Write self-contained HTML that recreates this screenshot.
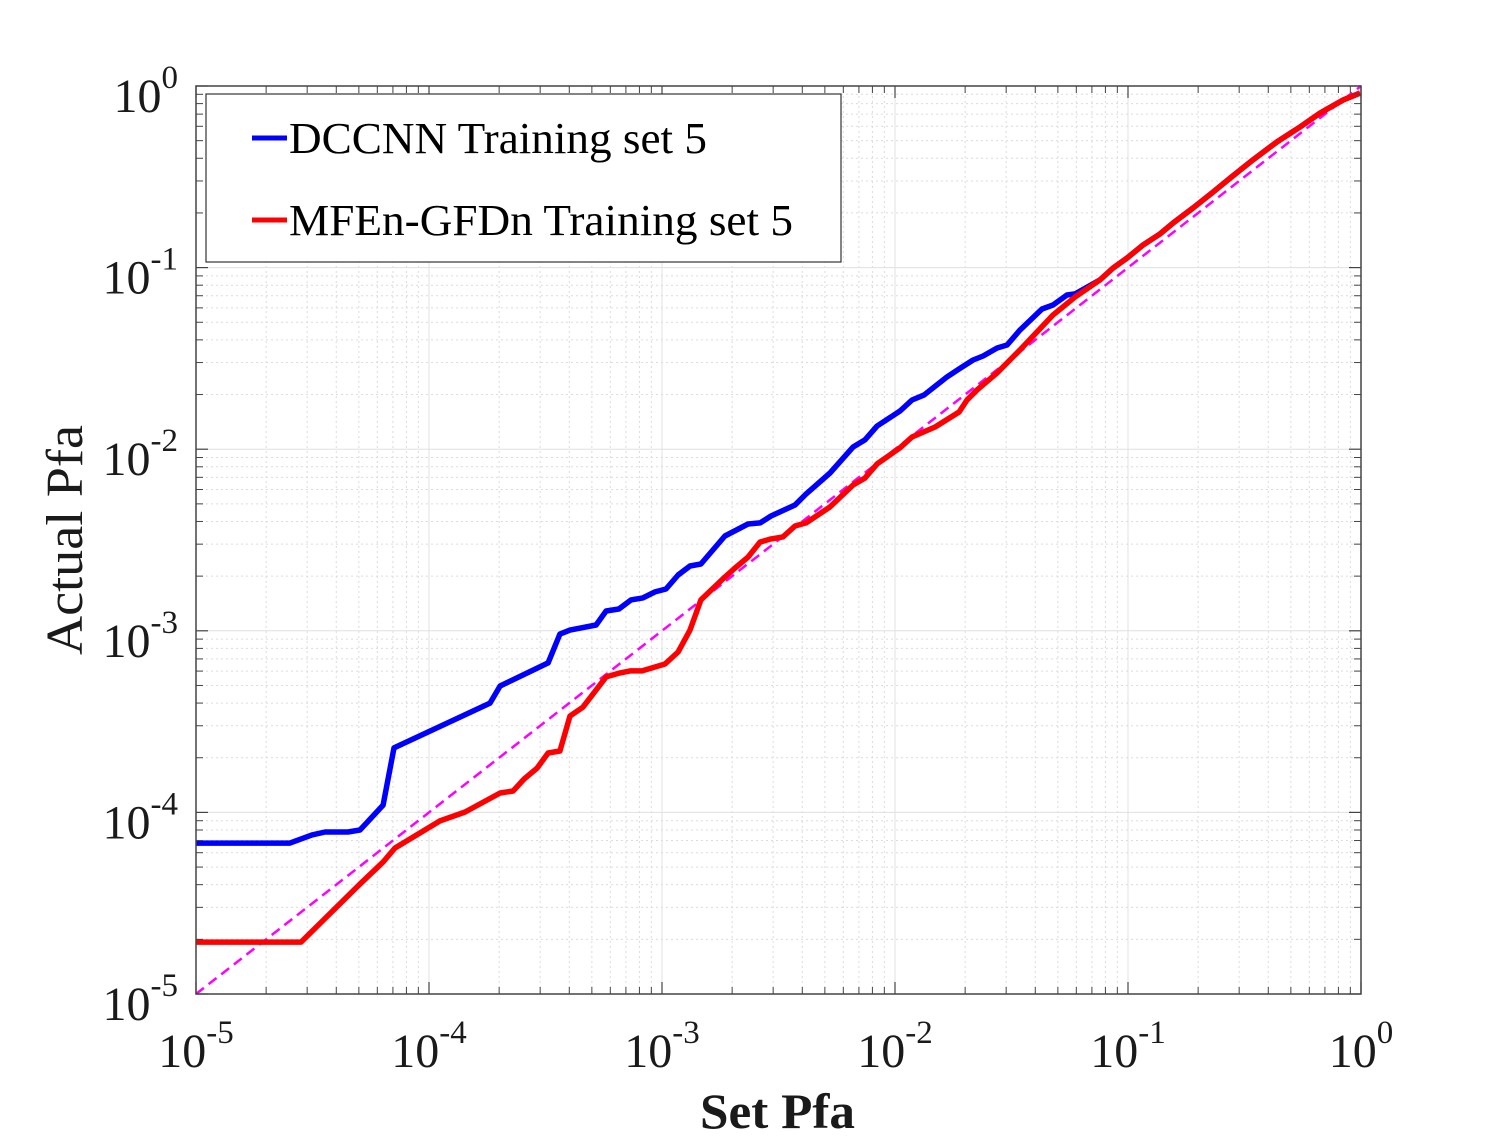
<!DOCTYPE html>
<html><head><meta charset="utf-8"><style>
html,body{margin:0;padding:0;background:#fff;}
svg{display:block;font-family:"Liberation Serif",serif;}
</style></head><body>
<svg id="chart" width="1504" height="1141" viewBox="0 0 1504 1141" xmlns="http://www.w3.org/2000/svg">
<rect width="1504" height="1141" fill="#fff"/>
<g id="grid"></g>
<g id="series"></g>
<g id="axes"></g>
<text x="700" y="1128" textLength="155" lengthAdjust="spacingAndGlyphs" font-size="50" font-weight="bold" fill="#1a1a1a">Set Pfa</text>
<text transform="translate(82,655) rotate(-90)" textLength="230" lengthAdjust="spacingAndGlyphs" font-size="52" fill="#1a1a1a">Actual Pfa</text>
<g>
<rect x="206" y="94" width="635" height="168" fill="#fff" stroke="#333" stroke-width="1.2"/>
<line x1="252" y1="138" x2="287" y2="138" stroke="#0000ff" stroke-width="5"/>
<text x="289" y="153" textLength="418" lengthAdjust="spacingAndGlyphs" font-size="44" fill="#000">DCCNN Training set 5</text>
<line x1="252" y1="220" x2="287" y2="220" stroke="#ff0000" stroke-width="5"/>
<text x="289" y="235" textLength="504" lengthAdjust="spacingAndGlyphs" font-size="44" fill="#000">MFEn-GFDn Training set 5</text>
</g>
</svg>
<script>
// log10 values of Set Pfa (x) and Actual Pfa (y)
const blueX=[-5,-4.597,-4.502,-4.446,-4.348,-4.296,-4.197,-4.150,-3.738,-3.695,-3.489,-3.438,-3.395,-3.283,-3.240,-3.185,-3.133,-3.082,-3.030,-2.983,-2.931,-2.880,-2.833,-2.730,-2.631,-2.579,-2.532,-2.429,-2.382,-2.279,-2.180,-2.129,-2.077,-1.979,-1.927,-1.876,-1.777,-1.725,-1.665,-1.622,-1.562,-1.519,-1.464,-1.369,-1.322,-1.262,-1.227,-1.120,-1.064,-1.004,-0.936,-0.863,-0.807,-0.721,-0.635,-0.562,-0.464,-0.361,-0.262,-0.176,-0.077,-0.004];
const blueY=[-4.169,-4.169,-4.124,-4.108,-4.108,-4.097,-3.960,-3.645,-3.398,-3.304,-3.177,-3.018,-2.996,-2.968,-2.891,-2.880,-2.830,-2.819,-2.786,-2.770,-2.693,-2.643,-2.632,-2.478,-2.412,-2.406,-2.368,-2.307,-2.247,-2.131,-1.988,-1.949,-1.872,-1.790,-1.729,-1.702,-1.602,-1.558,-1.509,-1.487,-1.443,-1.426,-1.344,-1.228,-1.206,-1.151,-1.145,-1.068,-1.002,-0.947,-0.876,-0.815,-0.755,-0.672,-0.584,-0.507,-0.407,-0.308,-0.226,-0.149,-0.077,-0.039];
const redX=[-5,-4.549,-4.296,-4.197,-4.146,-3.953,-3.845,-3.695,-3.639,-3.592,-3.536,-3.489,-3.438,-3.395,-3.339,-3.240,-3.180,-3.137,-3.086,-2.987,-2.931,-2.880,-2.833,-2.730,-2.682,-2.631,-2.579,-2.532,-2.481,-2.429,-2.382,-2.279,-2.180,-2.129,-2.077,-1.979,-1.927,-1.828,-1.725,-1.691,-1.648,-1.562,-1.464,-1.322,-1.227,-1.120,-1.064,-1.004,-0.936,-0.863,-0.807,-0.721,-0.635,-0.562,-0.464,-0.361,-0.262,-0.176,-0.077,-0.004];
const redY=[-4.714,-4.714,-4.394,-4.273,-4.196,-4.047,-3.998,-3.893,-3.882,-3.816,-3.756,-3.673,-3.662,-3.469,-3.420,-3.254,-3.232,-3.221,-3.221,-3.183,-3.117,-2.996,-2.830,-2.704,-2.649,-2.594,-2.511,-2.494,-2.483,-2.423,-2.406,-2.318,-2.197,-2.159,-2.081,-1.993,-1.933,-1.878,-1.795,-1.729,-1.674,-1.580,-1.454,-1.261,-1.162,-1.068,-1.002,-0.947,-0.876,-0.815,-0.755,-0.672,-0.584,-0.507,-0.407,-0.308,-0.226,-0.149,-0.077,-0.039];
const refX=[-5,0];
const refY=[-5,0];
const decades=[-5,-4,-3,-2,-1,0];
const tickExp=["-5","-4","-3","-2","-1","0"];

const L=196,R=1361,T=86,B=994;
const sx=v=>L+(v+5)/5*(R-L);
const sy=v=>T+(0-v)/5*(B-T);
const NS="http://www.w3.org/2000/svg";
function mk(tag,attrs,parent){const e=document.createElementNS(NS,tag);for(const k in attrs)e.setAttribute(k,attrs[k]);parent.appendChild(e);return e;}
const grid=document.getElementById('grid'),axes=document.getElementById('axes'),series=document.getElementById('series');

for(let d=-5;d<0;d++){for(let m=2;m<=9;m++){const v=d+Math.log10(m);
 let e=mk('line',{x1:sx(v),x2:sx(v),y1:T,y2:B,stroke:'#dcdcdc','stroke-width':1,'stroke-dasharray':'2,3'},grid);
 
 e=mk('line',{x1:L,x2:R,y1:sy(v),y2:sy(v),stroke:'#dcdcdc','stroke-width':1,'stroke-dasharray':'2,3'},grid);
 
 for(const [a,b,c,dd] of [[sx(v),B,sx(v),B-7],[sx(v),T,sx(v),T+7],[L,sy(v),L+7,sy(v)],[R,sy(v),R-7,sy(v)]]){
  e=mk('line',{x1:a,y1:b,x2:c,y2:dd,stroke:'#444','stroke-width':1},axes);
  }
}}
decades.forEach((d,i)=>{
 let e=mk('line',{x1:sx(d),x2:sx(d),y1:T,y2:B,stroke:'#e0e0e0','stroke-width':1},grid);
 
 e=mk('line',{x1:L,x2:R,y1:sy(d),y2:sy(d),stroke:'#e0e0e0','stroke-width':1},grid);
 
 for(const [a,b,c,dd] of [[sx(d),B,sx(d),B-12],[sx(d),T,sx(d),T+12],[L,sy(d),L+12,sy(d)],[R,sy(d),R-12,sy(d)]]){
  e=mk('line',{x1:a,y1:b,x2:c,y2:dd,stroke:'#444','stroke-width':1.2},axes);
  }
 let t=mk('text',{x:sx(d),y:1067,'text-anchor':'middle','font-size':48,fill:'#1a1a1a'},axes);
 
 t.textContent='10';
 let s=mk('tspan',{dy:-24,'font-size':33},t);s.textContent=tickExp[i];
 t=mk('text',{x:178,y:sy(d)+26,'text-anchor':'end','font-size':48,fill:'#1a1a1a'},axes);
 
 t.textContent='10';
 s=mk('tspan',{dy:-24,'font-size':33},t);s.textContent=tickExp[i];
});
let fr=mk('rect',{x:L,y:T,width:R-L,height:B-T,fill:'none',stroke:'#444','stroke-width':1.5},axes);


function path(xs,ys){return xs.map((x,i)=>(i?'L':'M')+sx(x).toFixed(1)+','+sy(ys[i]).toFixed(1)).join(' ');}
let p=mk('path',{d:path(refX,refY),fill:'none',stroke:'#ff00ff','stroke-width':2.5,'stroke-dasharray':'10,6'},series);

p=mk('path',{d:path(blueX,blueY),fill:'none',stroke:'#0000ff','stroke-width':5.5,'stroke-linejoin':'round'},series);

p=mk('path',{d:path(redX,redY),fill:'none',stroke:'#ff0000','stroke-width':5.5,'stroke-linejoin':'round'},series);

</script>
</body></html>
